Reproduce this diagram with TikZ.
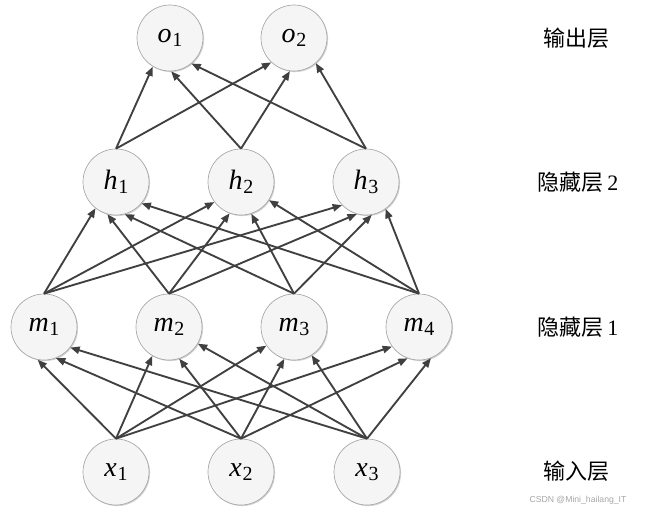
\documentclass[tikz,border=0pt]{standalone}
\usepackage{fontspec}
\newfontfamily\cjk{Noto Sans CJK SC}
\newfontfamily\tms{Liberation Serif}
\newfontfamily\wm{Liberation Sans}
\usetikzlibrary{arrows.meta,shadows}
\newcommand{\nvar}[2]{{\tms\fontsize{21}{24}\selectfont\textit{#1}\kern0.5pt\raisebox{-3pt}{\fontsize{15}{16}\selectfont #2}}}
\begin{document}
\begin{tikzpicture}[x=0.75pt,y=-0.75pt,
  neuron/.style={circle,draw=black!35,line width=0.5pt,fill=black!4,
    minimum size=49.5pt,inner sep=0pt,
    drop shadow={shadow xshift=0.8pt,shadow yshift=-0.8pt,opacity=0.18,fill=black}},
  conn/.style={draw=black!75,line width=1.4pt,-{Triangle[length=7pt,width=5.5pt]}},
  layerlabel/.style={font=\cjk\fontsize{16.5}{18}\selectfont,inner sep=0pt}]
\useasboundingbox (0,0) rectangle (646,511);
% nodes
\node[neuron] (o1) at (170,38) {\nvar{o}{1}};
\node[neuron] (o2) at (294,38) {\nvar{o}{2}};
\node[neuron] (h1) at (116,182) {\nvar{h}{1}};
\node[neuron] (h2) at (241,182) {\nvar{h}{2}};
\node[neuron] (h3) at (366,182) {\nvar{h}{3}};
\node[neuron] (m1) at (44,327) {\nvar{m}{1}};
\node[neuron] (m2) at (169,327) {\nvar{m}{2}};
\node[neuron] (m3) at (294,327) {\nvar{m}{3}};
\node[neuron] (m4) at (419,327) {\nvar{m}{4}};
\node[neuron] (x1) at (116,472) {\nvar{x}{1}};
\node[neuron] (x2) at (241,472) {\nvar{x}{2}};
\node[neuron] (x3) at (367,472) {\nvar{x}{3}};
% input -> hidden 1
\draw[conn] (x1.north) -- (m1.259);
\draw[conn] (x2.north) -- (m1.291);
\draw[conn] (x3.north) -- (m1.322);
\draw[conn] (x1.north) -- (m2.240);
\draw[conn] (x2.north) -- (m2.288);
\draw[conn] (x3.north) -- (m2.330);
\draw[conn] (x1.north) -- (m3.214);
\draw[conn] (x2.north) -- (m3.253);
\draw[conn] (x3.north) -- (m3.302);
\draw[conn] (x1.north) -- (m4.216);
\draw[conn] (x2.north) -- (m4.250);
\draw[conn] (x3.north) -- (m4.291);
% hidden 1 -> hidden 2
\draw[conn] (m1.north) -- (h1.232);
\draw[conn] (m2.north) -- (h1.255);
\draw[conn] (m3.north) -- (h1.285);
\draw[conn] (m4.north) -- (h1.320);
\draw[conn] (m1.north) -- (h2.217);
\draw[conn] (m2.north) -- (h2.250);
\draw[conn] (m3.north) -- (h2.288);
\draw[conn] (m4.north) -- (h2.327);
\draw[conn] (m1.north) -- (h3.224);
\draw[conn] (m2.north) -- (h3.254);
\draw[conn] (m3.north) -- (h3.280);
\draw[conn] (m4.north) -- (h3.306);
% hidden 2 -> output
\draw[conn] (h1.north) -- (o1.239);
\draw[conn] (h2.north) -- (o1.272);
\draw[conn] (h3.north) -- (o1.310);
\draw[conn] (h1.north) -- (o2.227);
\draw[conn] (h2.north) -- (o2.263);
\draw[conn] (h3.north) -- (o2.311);
% labels
\node[layerlabel] (lo) at (576,38) {输出层};
\node[layerlabel] (lh2) at (578,182) {隐藏层\,{\tms 2}};
\node[layerlabel] (lh1) at (578,327) {隐藏层\,{\tms 1}};
\node[layerlabel] (li) at (576,471) {输入层};
\node[font=\wm\fontsize{6.5}{7}\selectfont,text=black!35,inner sep=0pt] (wm) at (578,500) {CSDN @Mini\_hailang\_IT};
\end{tikzpicture}
\end{document}
